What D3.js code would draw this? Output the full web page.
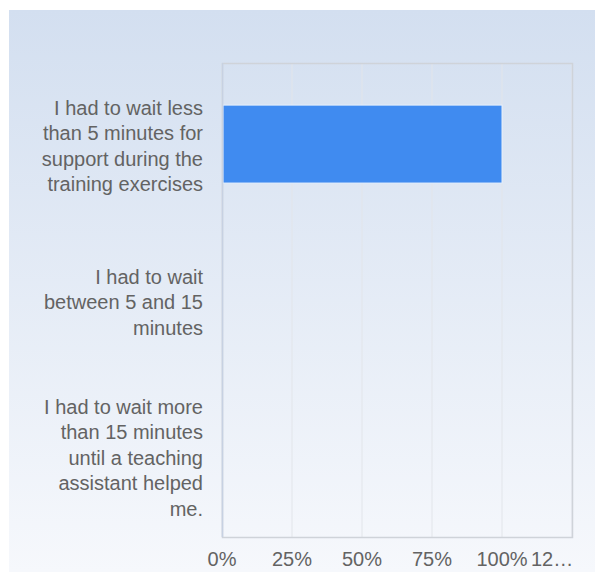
<!DOCTYPE html>
<html>
<head>
<meta charset="utf-8">
<script src="https://cdn.jsdelivr.net/npm/d3@7"></script>
<style>
  body { margin: 0; background: #fff; }
  text { font-family: "Liberation Sans", Arial, sans-serif; }
</style>
</head>
<body>
<svg width="595" height="572"></svg>
<script>
// answers, one line per row of the label
var categories = [
  ["I had to wait less", "than 5 minutes for", "support during the", "training exercises"],
  ["I had to wait", "between 5 and 15", "minutes"],
  ["I had to wait more", "than 15 minutes", "until a teaching", "assistant helped", "me."]
];
var values = [100, 0, 0];
var tickValues = [0, 25, 50, 75, 100, 125];
var tickLabels = ["0%", "25%", "50%", "75%", "100%", "12\u2026"];

var svg = d3.select("svg"),
    width = +svg.attr("width"),
    height = +svg.attr("height");

var margin = {top: 63, right: 23, bottom: 35, left: 222};

var defs = svg.append("defs");
var grad = defs.append("linearGradient")
    .attr("id", "bg")
    .attr("x1", 0).attr("y1", 0).attr("x2", 0).attr("y2", 1);
grad.append("stop").attr("offset", "0%").attr("stop-color", "#d3dff0");
grad.append("stop").attr("offset", "100%").attr("stop-color", "#f6f8fc");

svg.append("rect")
    .attr("x", 9).attr("y", 10)
    .attr("width", width - 9).attr("height", height - 10)
    .attr("fill", "url(#bg)");

var x = d3.scaleLinear()
    .domain([0, 125])
    .range([margin.left, width - margin.right]);

var y = d3.scaleBand()
    .domain(d3.range(categories.length))
    .range([margin.top, height - margin.bottom])
    .paddingInner(0.5)
    .paddingOuter(0.27);

var g = svg.append("g");

// grid
g.selectAll("line.grid")
    .data(tickValues)
    .enter().append("line")
    .attr("class", "grid")
    .attr("x1", function(d) { return x(d); })
    .attr("x2", function(d) { return x(d); })
    .attr("y1", margin.top)
    .attr("y2", height - margin.bottom)
    .attr("stroke", "#e2e5ea")
    .attr("stroke-width", 1);

// frame
g.append("rect")
    .attr("x", x(0) + 0.5)
    .attr("y", margin.top + 0.5)
    .attr("width", x(125) - x(0))
    .attr("height", height - margin.bottom - margin.top)
    .attr("fill", "none")
    .attr("stroke", "#cfd3d9")
    .attr("stroke-width", 1.5);

// bars
g.selectAll("rect.bar")
    .data(values)
    .enter().append("rect")
    .attr("class", "bar")
    .attr("x", x(0) + 1)
    .attr("y", function(d, i) { return y(i); })
    .attr("width", function(d) { return Math.max(0, x(d) - x(0) - 1); })
    .attr("height", y.bandwidth())
    .attr("fill", "#408bf0")
    .attr("stroke", "#e6f0fd")
    .attr("stroke-width", function(d) { return d > 0 ? 1 : 0; });

// baseline
g.append("line")
    .attr("x1", x(0) + 0.5).attr("x2", x(0) + 0.5)
    .attr("y1", margin.top).attr("y2", height - margin.bottom)
    .attr("stroke", "#c7d1e2")
    .attr("stroke-width", 1.5);

// category labels
var lineH = 25.5;
var labels = svg.selectAll("text.cat")
    .data(categories)
    .enter().append("text")
    .attr("class", "cat")
    .attr("text-anchor", "end")
    .attr("font-size", 20)
    .attr("fill", "#636363")
    .attr("transform", function(d, i) {
      var cy = y(i) + y.bandwidth() / 2;
      return "translate(203," + (cy - (d.length - 1) * lineH / 2 + 9) + ")";
    });

labels.selectAll("tspan")
    .data(function(d) { return d; })
    .enter().append("tspan")
    .attr("x", 0)
    .attr("y", function(d, i) { return i * lineH; })
    .text(function(d) { return d; });

// x tick labels, the last one is cut short
var last = tickValues.length - 1;
svg.selectAll("text.tick")
    .data(tickValues)
    .enter().append("text")
    .attr("class", "tick")
    .attr("x", function(d, i) { return i == last ? x(d) - 41 : x(d); })
    .attr("y", 566)
    .attr("text-anchor", function(d, i) { return i == last ? "start" : "middle"; })
    .attr("font-size", 20)
    .attr("fill", "#636363")
    .text(function(d, i) { return tickLabels[i]; });
</script>
</body>
</html>
